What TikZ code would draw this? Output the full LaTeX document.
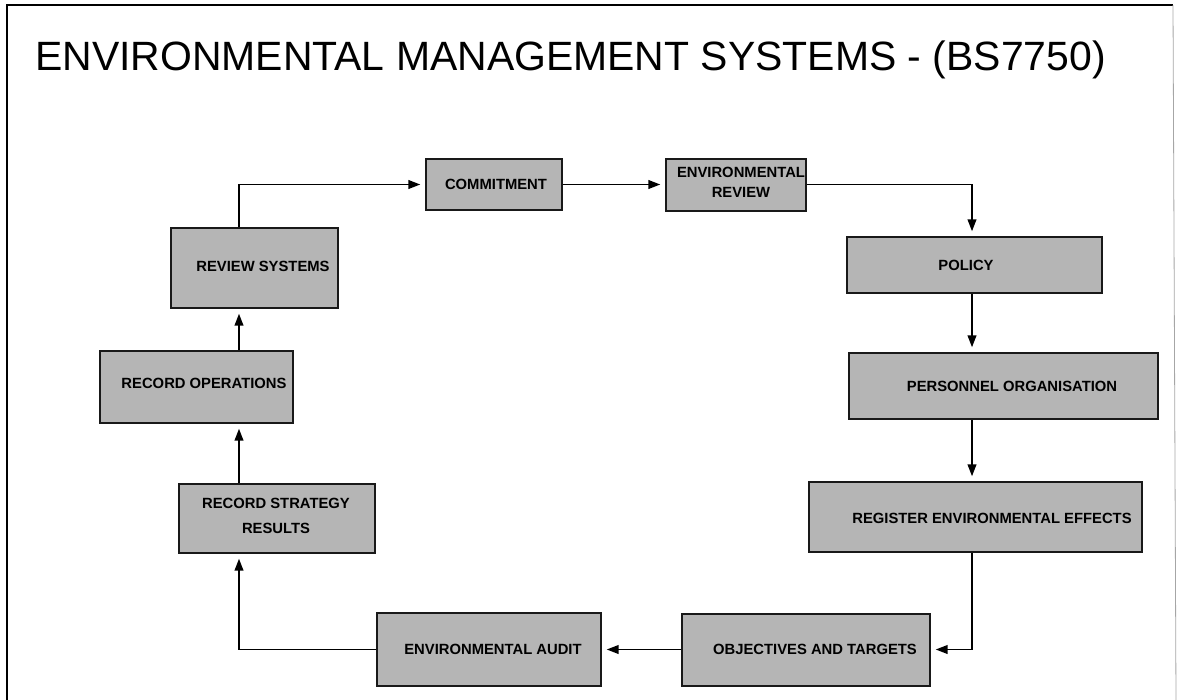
\documentclass[tikz,border=0pt]{standalone}
\usepackage{fontspec}
\setmainfont{Liberation Sans}
\usetikzlibrary{arrows.meta}

\tikzset{
  stagebox/.style={draw=black!90, line width=1.5pt, fill=black!29, inner sep=0pt},
  boxsize/.style 2 args={minimum width=#1*0.75pt, minimum height=#2*0.75pt},
  stagetext/.style={inner sep=0.75pt, font=\fontsize{11.1}{13.5}\selectfont\bfseries, align=center},
  flow/.style={line width=1.4pt, -{Triangle[length=9pt,width=6.5pt]}, shorten >=3.5pt}
}

\begin{document}
\begin{tikzpicture}[x=0.75pt,y=0.75pt,yscale=-1,xscale=1]
      \useasboundingbox (0,0) rectangle (1179,700);
      % frame and title
      \draw [line width=1.4pt] (7,700) -- (7,5) -- (1173,5) ;
      \draw [black!35, line width=0.6pt] (1173,5) -- (1176,700) ;
      \node [anchor=base west, inner sep=0pt, font=\fontsize{30.7}{34}\selectfont] (title) at (35,70) {ENVIRONMENTAL MANAGEMENT SYSTEMS - (BS7750)};

      % boxes
      \node [stagebox, boxsize={167}{80}] (review) at (254.5,268) {};
      \node [stagebox, boxsize={136}{51}] (commit) at (494,184.5) {};
      \node [stagebox, boxsize={140}{52}] (envrev) at (736,184.5) {};
      \node [stagebox, boxsize={255}{56}] (policy) at (974.5,265) {};
      \node [stagebox, boxsize={309}{66}] (personnel) at (1003.5,386) {};
      \node [stagebox, boxsize={333}{70}] (register) at (975.5,517) {};
      \node [stagebox, boxsize={248}{72}] (objectives) at (806,649.5) {};
      \node [stagebox, boxsize={224}{73}] (audit) at (489,649.5) {};
      \node [stagebox, boxsize={196}{69}] (strategy) at (277,518.5) {};
      \node [stagebox, boxsize={193}{72}] (recops) at (196.5,387) {};

      % labels
      \node [stagetext] (reviewlbl) at (263,266) {REVIEW SYSTEMS};
      \node [stagetext] (commitlbl) at (496,184) {COMMITMENT};
      \node [stagetext] (envrevlbl) at (741,182) {ENVIRONMENTAL\\[1.5pt]REVIEW};
      \node [stagetext] (policylbl) at (966,265) {POLICY};
      \node [stagetext] (personnellbl) at (1012,386) {PERSONNEL ORGANISATION};
      \node [stagetext] (registerlbl) at (992,518) {REGISTER ENVIRONMENTAL EFFECTS};
      \node [stagetext] (objectiveslbl) at (815,649) {OBJECTIVES AND TARGETS};
      \node [stagetext] (auditlbl) at (493,649) {ENVIRONMENTAL AUDIT};
      \node [stagetext] (strategylbl) at (276,516) {RECORD STRATEGY\\[5pt]RESULTS};
      \node [stagetext] (recopslbl) at (204,383) {RECORD OPERATIONS};

      % rails for the vertical runs
      \coordinate (leftrail) at (239,648);
      \coordinate (rightrail) at (972,648);

      % connectors
      \draw [flow] (review.north -| leftrail) |- (commit.west) ;
      \draw [flow] (commit.east) -- (envrev.west) ;
      \draw [flow] (envrev.east) -| (policy.north -| rightrail) ;
      \draw [flow] (policy.south -| rightrail) -- (personnel.north -| rightrail) ;
      \draw [flow] (personnel.south -| rightrail) -- (register.north -| rightrail) ;
      \draw [flow] (register.south -| rightrail) |- (objectives.east) ;
      \draw [flow] (objectives.west) -- (audit.east) ;
      \draw [flow] (audit.west) -| (strategy.south -| leftrail) ;
      \draw [flow] (strategy.north -| leftrail) -- (recops.south -| leftrail) ;
      \draw [flow] (recops.north -| leftrail) -- (review.south -| leftrail) ;
  \end{tikzpicture}
\end{document}
